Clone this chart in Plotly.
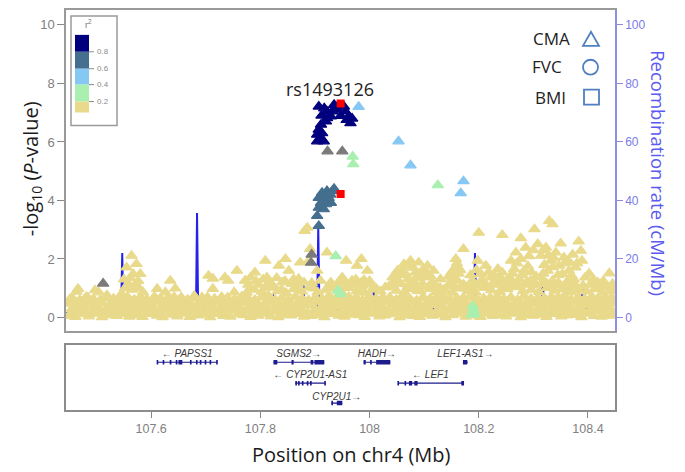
import plotly.graph_objects as go

# ---------------------------------------------------------------- data
# SNP association results (position in Mb, -log10 P), grouped by LD r^2 class
yellow_low = [
    (107.449, 0.06), (107.461, 0.02), (107.475, 0.11), (107.486, 0.04), (107.500, 0.13), (107.510, 0.01), (107.523, 0.08), (107.537, 0.05), (107.547, 0.12), (107.560, 0.03),
    (107.574, 0.09), (107.584, 0.02), (107.597, 0.12), (107.611, 0.06), (107.621, 0.01), (107.634, 0.10), (107.648, 0.04), (107.658, 0.13), (107.671, 0.02), (107.685, 0.07),
    (107.695, 0.10), (107.708, 0.01), (107.722, 0.12), (107.732, 0.05), (107.745, 0.03), (107.759, 0.11), (107.769, 0.08), (107.782, 0.02), (107.796, 0.06), (107.806, 0.13),
    (107.819, 0.04), (107.833, 0.01), (107.843, 0.09), (107.856, 0.07), (107.870, 0.12), (107.880, 0.03), (107.893, 0.05), (107.907, 0.09), (107.917, 0.01), (107.930, 0.12),
    (107.944, 0.06), (107.954, 0.03), (107.967, 0.10), (107.981, 0.08), (107.991, 0.02), (108.004, 0.13), (108.018, 0.04), (108.028, 0.07), (108.041, 0.11), (108.055, 0.01),
    (108.065, 0.09), (108.078, 0.05), (108.092, 0.02), (108.102, 0.12), (108.115, 0.06), (108.129, 0.10), (108.139, 0.01), (108.152, 0.08), (108.166, 0.13), (108.176, 0.03),
    (108.189, 0.07), (108.203, 0.02), (108.213, 0.11), (108.226, 0.05), (108.240, 0.09), (108.250, 0.04), (108.263, 0.13), (108.277, 0.01), (108.287, 0.08), (108.300, 0.06),
    (108.314, 0.10), (108.324, 0.02), (108.337, 0.12), (108.351, 0.04), (108.361, 0.07), (108.374, 0.09), (108.388, 0.01), (108.398, 0.13), (108.411, 0.05), (108.425, 0.03),
    (108.435, 0.08), (108.446, 0.06),
]
yellow_low2 = [
    (107.455, 0.19), (107.468, 0.23), (107.480, 0.17), (107.492, 0.21), (107.505, 0.18), (107.517, 0.24), (107.529, 0.16), (107.542, 0.22), (107.554, 0.19), (107.566, 0.17),
    (107.579, 0.23), (107.591, 0.18), (107.603, 0.21), (107.616, 0.16), (107.628, 0.24), (107.640, 0.19), (107.653, 0.22), (107.665, 0.17), (107.677, 0.20), (107.690, 0.23),
    (107.702, 0.18), (107.714, 0.16), (107.727, 0.22), (107.739, 0.19), (107.751, 0.24), (107.764, 0.17), (107.776, 0.21), (107.788, 0.18), (107.801, 0.23), (107.813, 0.16),
    (107.825, 0.20), (107.838, 0.22), (107.850, 0.17), (107.862, 0.24), (107.875, 0.19), (107.887, 0.16), (107.899, 0.21), (107.912, 0.23), (107.924, 0.18), (107.936, 0.20),
    (107.949, 0.17), (107.961, 0.22), (107.973, 0.19), (107.986, 0.24), (107.998, 0.16), (108.010, 0.21), (108.023, 0.18), (108.035, 0.23), (108.047, 0.17), (108.060, 0.20),
    (108.072, 0.22), (108.084, 0.16), (108.097, 0.24), (108.109, 0.19), (108.121, 0.17), (108.134, 0.21), (108.146, 0.23), (108.158, 0.18), (108.171, 0.20), (108.183, 0.16),
    (108.195, 0.22), (108.208, 0.19), (108.220, 0.24), (108.232, 0.17), (108.245, 0.21), (108.257, 0.18), (108.269, 0.23), (108.282, 0.16), (108.294, 0.20), (108.306, 0.22),
    (108.319, 0.17), (108.331, 0.24), (108.343, 0.19), (108.356, 0.21), (108.368, 0.16), (108.380, 0.23), (108.393, 0.18), (108.405, 0.20), (108.417, 0.22), (108.430, 0.17),
    (108.442, 0.21),
]
yellow_mid = [
    (107.455, 0.30), (107.468, 0.38), (107.480, 0.27), (107.493, 0.41), (107.505, 0.33), (107.517, 0.25), (107.530, 0.39), (107.542, 0.31), (107.554, 0.36), (107.567, 0.28),
    (107.579, 0.42), (107.591, 0.30), (107.604, 0.35), (107.616, 0.26), (107.628, 0.40), (107.641, 0.32), (107.653, 0.28), (107.665, 0.37), (107.678, 0.34), (107.690, 0.25),
    (107.702, 0.39), (107.715, 0.30), (107.727, 0.36), (107.739, 0.27), (107.752, 0.41), (107.764, 0.33), (107.776, 0.29), (107.789, 0.38), (107.801, 0.31), (107.813, 0.26),
    (107.826, 0.40), (107.838, 0.34), (107.850, 0.28), (107.863, 0.37), (107.875, 0.30), (107.887, 0.42), (107.900, 0.27), (107.912, 0.35), (107.924, 0.32), (107.937, 0.39),
    (107.949, 0.25), (107.961, 0.36), (107.974, 0.31), (107.986, 0.41), (107.998, 0.28), (108.011, 0.34), (108.023, 0.38), (108.035, 0.26), (108.048, 0.33), (108.060, 0.40),
    (108.072, 0.29), (108.085, 0.37), (108.097, 0.31), (108.109, 0.27), (108.122, 0.42), (108.134, 0.35), (108.146, 0.30), (108.159, 0.38), (108.171, 0.26), (108.183, 0.33),
    (108.196, 0.40), (108.208, 0.29), (108.220, 0.36), (108.233, 0.32), (108.245, 0.41), (108.257, 0.27), (108.270, 0.34), (108.282, 0.39), (108.294, 0.30), (108.307, 0.25),
    (108.319, 0.37), (108.331, 0.33), (108.344, 0.40), (108.356, 0.28), (108.368, 0.35), (108.381, 0.31), (108.393, 0.42), (108.405, 0.26), (108.418, 0.38), (108.430, 0.32),
    (108.442, 0.29),
]
yellow_mid2 = [
    (107.448, 0.47), (107.462, 0.50), (107.474, 0.45), (107.487, 0.52), (107.499, 0.46), (107.511, 0.49), (107.524, 0.44), (107.536, 0.51), (107.548, 0.47), (107.561, 0.45),
    (107.573, 0.50), (107.585, 0.48), (107.598, 0.44), (107.610, 0.52), (107.622, 0.46), (107.635, 0.49), (107.647, 0.45), (107.659, 0.51), (107.672, 0.47), (107.684, 0.44),
    (107.696, 0.50), (107.709, 0.46), (107.721, 0.52), (107.733, 0.45), (107.746, 0.48), (107.758, 0.44), (107.770, 0.51), (107.783, 0.47), (107.795, 0.49), (107.807, 0.45),
    (107.820, 0.52), (107.832, 0.46), (107.844, 0.48), (107.857, 0.44), (107.869, 0.50), (107.881, 0.47), (107.894, 0.45), (107.906, 0.52), (107.918, 0.46), (107.931, 0.49),
    (107.943, 0.44), (107.955, 0.51), (107.968, 0.47), (107.980, 0.45), (107.992, 0.50), (108.005, 0.48), (108.017, 0.44), (108.029, 0.52), (108.042, 0.46), (108.054, 0.49),
    (108.066, 0.45), (108.079, 0.51), (108.091, 0.47), (108.103, 0.44), (108.116, 0.50), (108.128, 0.46), (108.140, 0.52), (108.153, 0.45), (108.165, 0.48), (108.177, 0.44),
    (108.190, 0.51), (108.202, 0.47), (108.214, 0.49), (108.227, 0.45), (108.239, 0.52), (108.251, 0.46), (108.264, 0.48), (108.276, 0.44), (108.288, 0.50), (108.301, 0.47),
    (108.313, 0.45), (108.325, 0.52), (108.338, 0.46), (108.350, 0.49), (108.362, 0.44), (108.375, 0.51), (108.387, 0.47), (108.399, 0.45), (108.412, 0.50), (108.424, 0.48),
    (108.436, 0.44), (108.447, 0.49),
]
yellow_top = [
    (107.451, 0.62), (107.463, 0.88), (107.472, 0.55), (107.484, 0.68), (107.497, 0.93), (107.508, 0.58), (107.519, 0.75), (107.531, 0.64), (107.544, 0.52), (107.557, 0.70),
    (107.570, 0.60), (107.582, 0.66), (107.594, 0.55), (107.606, 0.71), (107.618, 0.59), (107.631, 0.67), (107.643, 0.52), (107.655, 0.69), (107.667, 0.61), (107.679, 0.74),
    (107.692, 0.57), (107.704, 0.65), (107.716, 0.53), (107.729, 0.70), (107.741, 0.62), (107.753, 0.56), (107.766, 0.72), (107.778, 0.64), (107.790, 0.58), (107.803, 0.69),
    (107.815, 0.75), (107.827, 0.61), (107.840, 0.66), (107.852, 0.54), (107.864, 0.71), (107.877, 0.63), (107.889, 0.57), (107.901, 0.68), (107.914, 0.60), (107.926, 0.74),
    (107.938, 0.55), (107.950, 0.66), (107.963, 0.62), (107.975, 0.70), (107.987, 0.58), (108.000, 0.73), (108.012, 0.64), (108.024, 0.56), (108.037, 0.69), (108.049, 0.61),
    (108.061, 0.75), (108.074, 0.63), (108.086, 0.57), (108.098, 0.70), (108.111, 0.65), (108.123, 0.59), (108.135, 0.72), (108.148, 0.62), (108.160, 0.55), (108.172, 0.68),
    (108.185, 0.74), (108.197, 0.60), (108.209, 0.66), (108.222, 0.57), (108.234, 0.71), (108.246, 0.64), (108.259, 0.69), (108.271, 0.58), (108.283, 0.73), (108.296, 0.62),
    (108.308, 0.67), (108.320, 0.56), (108.333, 0.70), (108.345, 0.63), (108.357, 0.75), (108.370, 0.59), (108.382, 0.68), (108.394, 0.61), (108.407, 0.72), (108.419, 0.57),
    (108.431, 0.66), (108.444, 0.63),
]
yellow_top2 = [
    (107.456, 0.66), (107.469, 0.60), (107.481, 0.70), (107.494, 0.63), (107.506, 0.58), (107.518, 0.67), (107.531, 0.61), (107.543, 0.69), (107.555, 0.64), (107.568, 0.59),
    (107.580, 0.68), (107.592, 0.62), (107.605, 0.57), (107.617, 0.66), (107.629, 0.60), (107.642, 0.70), (107.654, 0.63), (107.666, 0.58), (107.679, 0.67), (107.691, 0.61),
    (107.703, 0.69), (107.716, 0.64), (107.728, 0.59), (107.740, 0.68), (107.753, 0.62), (107.765, 0.57), (107.777, 0.66), (107.790, 0.60), (107.802, 0.70), (107.814, 0.63),
    (107.827, 0.58), (107.839, 0.67), (107.851, 0.61), (107.864, 0.69), (107.876, 0.64), (107.888, 0.59), (107.901, 0.68), (107.913, 0.62), (107.925, 0.57), (107.938, 0.66),
    (107.950, 0.60), (107.962, 0.70), (107.975, 0.63), (107.987, 0.58), (107.999, 0.67), (108.012, 0.61), (108.024, 0.69), (108.036, 0.64), (108.049, 0.59), (108.061, 0.68),
    (108.073, 0.62), (108.086, 0.57), (108.098, 0.66), (108.110, 0.60), (108.123, 0.70), (108.135, 0.63), (108.147, 0.58), (108.160, 0.67), (108.172, 0.61), (108.184, 0.69),
    (108.197, 0.64), (108.209, 0.59), (108.221, 0.68), (108.234, 0.62), (108.246, 0.57), (108.258, 0.66), (108.271, 0.60), (108.283, 0.70), (108.295, 0.63), (108.308, 0.58),
    (108.320, 0.67), (108.332, 0.61), (108.345, 0.69), (108.357, 0.64), (108.369, 0.59), (108.382, 0.68), (108.394, 0.62), (108.406, 0.57), (108.419, 0.66), (108.431, 0.60),
    (108.443, 0.70),
]
yellow_upper = [
    (107.775, 0.85), (107.789, 0.95), (107.803, 0.88), (107.818, 1.02), (107.832, 0.90), (107.847, 0.84), (107.861, 0.97), (107.876, 0.89), (107.890, 1.04), (107.905, 0.86),
    (107.919, 0.93), (107.934, 0.99), (107.948, 0.87), (107.962, 1.01), (107.977, 0.91), (107.991, 0.85), (108.006, 0.96), (108.020, 0.89), (108.035, 1.05), (108.049, 0.92),
    (108.064, 0.86), (108.078, 0.98), (108.093, 0.90), (108.107, 1.03), (108.122, 0.87), (108.136, 0.94), (108.151, 0.85), (108.165, 0.99), (108.180, 0.91), (108.194, 0.86),
    (108.209, 1.02), (108.223, 0.93), (108.238, 0.88), (108.252, 0.97), (108.267, 1.04), (108.281, 0.90), (108.296, 0.95), (108.310, 0.87), (108.325, 1.01), (108.339, 0.92),
    (108.354, 0.98), (108.368, 0.86), (108.383, 0.94), (108.397, 0.89), (108.412, 0.97), (108.426, 0.85), (108.441, 0.91),
    (107.782, 0.98), (107.810, 1.05), (107.839, 0.96), (107.868, 1.02), (107.897, 0.99), (107.926, 1.08), (107.955, 1.00), (107.970, 1.12), (107.984, 1.04), (108.013, 0.97),
    (108.042, 1.10), (108.057, 1.15), (108.071, 1.08), (108.086, 1.12), (108.100, 1.06), (108.114, 1.10), (108.129, 1.02), (108.143, 1.08), (108.158, 1.00), (108.172, 1.13),
    (108.187, 1.05), (108.201, 1.10), (108.216, 1.03), (108.230, 1.12), (108.245, 1.07), (108.259, 1.18), (108.274, 1.10), (108.288, 1.20), (108.303, 1.14), (108.317, 1.22),
    (108.332, 1.12), (108.346, 1.19), (108.361, 1.08), (108.375, 1.15), (108.390, 1.06), (108.404, 1.12), (108.419, 1.02), (108.433, 1.08), (108.447, 1.00),
]
yellow_scatter = [
    (107.564, 2.11), (107.573, 1.83), (107.555, 1.71), (107.567, 1.49), (107.580, 1.49), (107.558, 1.15), (107.573, 1.09), (107.585, 0.86), (107.546, 0.81),
    (107.550, 1.30), (107.562, 1.35), (107.576, 1.25), (107.552, 1.00), (107.565, 0.95), (107.578, 1.00),
    (107.611, 0.98), (107.635, 1.26), (107.644, 0.99), (107.626, 0.86), (107.466, 0.98), (107.519, 0.75), (107.504, 0.86),
    (107.705, 1.43), (107.713, 1.33), (107.735, 1.37), (107.741, 1.26), (107.757, 1.60), (107.772, 1.26), (107.752, 0.86), (107.713, 0.98), (107.693, 0.69),
    (107.809, 1.94), (107.846, 2.00), (107.834, 1.77), (107.852, 1.60), (107.790, 1.54), (107.873, 1.88), (107.782, 1.37), (107.812, 1.37), (107.861, 1.31),
    (107.773, 1.26), (107.840, 1.20), (107.891, 2.34), (107.889, 1.94), (107.904, 1.60), (107.922, 2.22), (107.910, 1.26), (107.929, 1.20), (107.957, 1.94),
    (107.985, 2.00), (107.977, 1.77), (107.996, 1.60), (107.950, 1.37), (107.968, 1.26), (107.957, 1.03), (107.999, 1.15), (107.886, 3.07), (107.881, 2.96),
    (107.797, 1.12), (107.823, 1.08), (107.868, 1.13), (107.894, 1.18), (107.940, 1.12), (107.985, 1.20),
    (107.778, 1.12), (107.792, 1.25), (107.805, 1.30), (107.818, 1.20), (107.830, 1.35), (107.845, 1.25), (107.858, 1.15), (107.870, 1.32), (107.880, 1.20),
    (107.955, 1.22), (107.965, 1.15), (107.975, 1.30), (107.990, 1.28), (108.000, 1.25), (107.945, 1.25),
    (108.075, 1.94), (108.063, 1.82), (108.090, 1.88), (108.051, 1.60), (108.106, 1.77), (108.042, 1.37), (108.066, 1.49), (108.084, 1.54), (108.102, 1.37),
    (108.117, 1.60), (108.054, 1.20), (108.078, 1.20), (108.097, 1.15), (108.115, 1.20), (108.029, 1.03), (108.070, 1.05), (108.088, 0.92), (108.112, 0.98),
    (108.008, 1.03), (107.987, 1.09),
    (108.045, 1.25), (108.058, 1.45), (108.070, 1.30), (108.080, 1.70), (108.092, 1.45), (108.104, 1.55), (108.112, 1.40), (108.060, 1.62), (108.072, 1.75),
    (108.098, 1.65), (108.085, 1.35), (108.048, 1.48),
    (108.329, 3.30), (108.335, 3.19), (108.302, 3.02), (108.200, 2.90), (108.243, 2.82), (108.277, 2.71), (108.172, 2.34), (108.350, 2.53), (108.383, 2.60),
    (108.387, 2.28), (108.158, 2.00), (108.158, 1.71), (108.439, 1.51), (108.418, 1.09),
    (108.268, 2.22), (108.286, 2.39), (108.308, 2.51), (108.323, 2.39), (108.341, 2.22), (108.356, 2.05), (108.259, 1.94), (108.277, 2.00), (108.314, 2.11),
    (108.332, 1.94), (108.347, 1.77), (108.265, 1.66), (108.283, 1.60), (108.326, 1.60), (108.353, 1.49), (108.256, 1.37), (108.274, 1.31), (108.295, 1.26),
    (108.314, 1.37), (108.335, 1.26), (108.363, 1.26), (108.262, 1.15), (108.285, 1.12), (108.305, 1.10), (108.325, 1.15), (108.345, 1.10), (108.360, 1.12),
    (108.262, 1.50), (108.270, 1.85), (108.280, 1.45), (108.290, 1.75), (108.292, 2.10), (108.300, 2.30), (108.318, 2.30), (108.328, 2.12), (108.338, 2.02),
    (108.345, 1.45), (108.357, 1.85), (108.365, 1.60), (108.320, 1.80), (108.335, 1.72), (108.305, 1.40), (108.318, 1.50), (108.296, 1.55), (108.366, 1.90),
    (108.372, 2.15), (108.380, 1.85), (108.374, 1.30), (108.402, 1.50), (108.410, 1.30), (108.428, 1.25),
    (108.198, 1.94), (108.213, 1.77), (108.235, 1.66), (108.243, 1.54), (108.204, 1.49), (108.222, 1.37), (108.188, 1.26), (108.209, 1.15), (108.237, 1.20),
    (108.252, 1.03), (108.179, 1.03), (108.161, 1.26), (108.149, 1.15), (108.130, 1.31), (108.121, 1.09), (108.139, 0.92),
    (108.185, 1.45), (108.196, 1.62), (108.206, 1.30), (108.218, 1.55), (108.228, 1.45), (108.240, 1.35), (108.250, 1.25), (108.192, 1.12), (108.226, 1.18),
    (108.145, 1.40), (108.163, 1.50), (108.152, 1.35), (108.160, 1.85), (108.166, 1.62), (108.150, 1.55),
    (108.377, 1.71), (108.389, 1.94), (108.370, 1.43), (108.395, 1.37), (108.418, 1.20), (108.436, 1.03), (108.391, 1.09), (108.369, 1.03), (108.445, 1.15),
]
palegreen_pts = [(107.969, 5.50), (107.970, 5.24), (108.125, 4.52), (107.938, 2.10), (107.947, 0.80), (107.942, 0.92),
                 (108.187, 0.10), (108.190, 0.25), (108.192, 0.12), (108.189, 0.38)]
lightblue_pts = [(107.980, 7.20), (108.053, 6.02), (108.075, 5.20), (108.172, 4.66), (108.167, 4.25)]
grey_pts = [(107.923, 5.68), (107.950, 5.68), (107.512, 1.16), (107.893, 1.87), (107.894, 2.15)]
steel_pts = [(107.913, 4.26), (107.922, 4.32), (107.932, 4.32), (107.907, 4.09), (107.916, 4.09), (107.925, 4.09),
             (107.911, 3.92), (107.920, 3.87), (107.929, 3.92), (107.907, 3.75), (107.916, 3.70), (107.904, 3.47),
             (107.907, 3.13), (107.935, 4.40), (107.928, 4.20)]
navy_pts = [(107.907, 7.21), (107.922, 7.04), (107.935, 7.27), (107.941, 7.10), (107.953, 7.21), (107.956, 7.04),
            (107.962, 6.87), (107.965, 6.64), (107.947, 6.89), (107.929, 6.87), (107.920, 6.70), (107.911, 6.59),
            (107.907, 6.42), (107.913, 6.30), (107.911, 6.13), (107.904, 6.02), (107.916, 6.02), (107.904, 6.25),
            (107.932, 7.04), (107.922, 6.81), (107.938, 7.20), (107.958, 6.75), (107.968, 6.80), (107.912, 6.90),
            (107.917, 7.15)]
index_pts = [(107.947, 7.31), (107.947, 4.22)]
index_snp = "rs1493126"

# recombination rate (cM/Mb)
recomb_pos = [107.444, 107.470, 107.500, 107.530, 107.545, 107.547, 107.549, 107.580, 107.620, 107.660,
              107.682, 107.684, 107.686, 107.720, 107.760, 107.790, 107.824, 107.833, 107.878, 107.879,
              107.881, 107.904, 107.906, 107.908, 107.950, 108.006, 108.008, 108.010, 108.060, 108.120,
              108.191, 108.193, 108.195, 108.260, 108.315, 108.317, 108.320, 108.331, 108.332, 108.334,
              108.380, 108.392, 108.393, 108.395, 108.450]
recomb_rate = [1.5, 2.0, 1.0, 2.5, 3.0, 22.0, 2.5, 1.5, 2.0, 1.0,
               2.0, 35.7, 3.0, 1.5, 2.0, 3.0, 7.5, 5.0, 3.0, 11.0,
               4.0, 3.0, 31.0, 5.0, 2.0, 3.0, 11.0, 4.0, 2.0, 3.0,
               4.0, 22.0, 5.0, 2.0, 2.0, 14.0, 2.0, 1.0, 5.0, 0.5,
               2.0, 10.0, 11.5, 3.0, 2.0]

# genes
gene_names = ["PAPSS1", "SGMS2", "CYP2U1-AS1", "CYP2U1", "HADH", "LEF1-AS1", "LEF1"]
gene_start = [107.611, 107.824, 107.864, 107.930, 107.989, 108.171, 108.052]
gene_end = [107.721, 107.917, 107.919, 107.950, 108.038, 108.180, 108.171]
gene_strand = ["-", "+", "-", "+", "+", "+", "-"]
gene_row = [1, 1, 2, 3, 1, 1, 2]
gene_exons = [
    [(107.610, 107.613), (107.621, 107.624), (107.634, 107.637), (107.645, 107.648), (107.650, 107.657), (107.671, 107.674),
     (107.682, 107.685), (107.689, 107.692), (107.698, 107.701), (107.707, 107.710), (107.719, 107.722)],
    [(107.824, 107.831), (107.857, 107.861), (107.892, 107.897), (107.899, 107.917)],
    [(107.864, 107.867), (107.869, 107.872), (107.876, 107.879), (107.885, 107.888), (107.891, 107.894), (107.917, 107.920)],
    [(107.930, 107.933), (107.940, 107.950)],
    [(107.989, 107.993), (108.001, 108.004), (108.012, 108.038)],
    [(108.171, 108.179)],
    [(108.051, 108.054), (108.064, 108.067), (108.072, 108.078), (108.082, 108.088), (108.168, 108.173)],
]

x_ticks = [107.6, 107.8, 108.0, 108.2, 108.4]
x_ticktext = ["107.6", "107.8", "108", "108.2", "108.4"]
p_ticks = [0, 2, 4, 6, 8, 10]
r_ticks = [0, 20, 40, 60, 80, 100]
ld_breaks = ["0.8", "0.6", "0.4", "0.2"]
ld_colors = ["#00007f", "#446f8e", "#86c8f4", "#a9efb0", "#e9da8b"]
traits = ["CMA", "FVC", "BMI"]

# ---------------------------------------------------------------- layout helpers
W, H = 685, 472
ML, MR, MT, MB = 66, 70, 8, 62
PW, PH = W - ML - MR, H - MT - MB


def fx(xp):
    return (xp - ML) / PW


def fy(yp):
    return (H - MB - yp) / PH


X_RANGE = [107.444, 108.4495]
P_RANGE = [-0.476, 10.51]
R_RANGE = [-4.76, 105.1]
ROW_LINE_Y = {1: 17, 2: 38, 3: 58}
ROW_LABEL_Y = {1: 9, 2: 30, 3: 52}
GENE_COLOR = "#1c1c8c"

fig = go.Figure()

# recombination line (under points)
fig.add_trace(go.Scatter(x=recomb_pos, y=recomb_rate, mode="lines",
                         line=dict(color="rgb(35,35,235)", width=2),
                         xaxis="x2", yaxis="y", hoverinfo="skip"))


def add_pts(pts, color, symbol="triangle-up", size=10, outline=1.2):
    xs, ys = zip(*pts)
    fig.add_trace(go.Scatter(x=list(xs), y=list(ys), mode="markers",
                             marker=dict(symbol=symbol, size=size, color=color,
                                         line=dict(width=outline, color=color)),
                             xaxis="x2", yaxis="y2"))


add_pts(yellow_low + yellow_low2 + yellow_mid + yellow_mid2 + yellow_top + yellow_top2
        + yellow_upper + yellow_scatter, ld_colors[4])
add_pts(palegreen_pts, ld_colors[3])
add_pts(lightblue_pts, ld_colors[2])
add_pts(grey_pts, "#7a7a7a")
add_pts(steel_pts, ld_colors[1])
add_pts(navy_pts, ld_colors[0])
add_pts(index_pts, "#ff0000", symbol="square", size=8, outline=0)

# genes
line_x, line_y, ex_x, ex_y, lab_x, lab_y, lab_t = [], [], [], [], [], [], []
for name, s, e, strand, row, exons in zip(gene_names, gene_start, gene_end, gene_strand, gene_row, gene_exons):
    line_x += [s, e, None]
    line_y += [ROW_LINE_Y[row]] * 2 + [None]
    for a, b in exons:
        ex_x += [a, b, None]
        ex_y += [ROW_LINE_Y[row]] * 2 + [None]
    lab_x.append((s + e) / 2)
    lab_y.append(ROW_LABEL_Y[row])
    lab_t.append("<i>" + ("\u2190 " + name if strand == "-" else name + "\u2192") + "</i>")

fig.add_trace(go.Scatter(x=line_x, y=line_y, mode="lines", line=dict(color=GENE_COLOR, width=1.2),
                         xaxis="x", yaxis="y3"))
fig.add_trace(go.Scatter(x=ex_x, y=ex_y, mode="lines", line=dict(color=GENE_COLOR, width=4.5),
                         xaxis="x", yaxis="y3"))
fig.add_trace(go.Scatter(x=lab_x, y=lab_y, mode="text", text=lab_t,
                         textfont=dict(family="Liberation Sans", size=10, color="#3a3a3a"),
                         xaxis="x", yaxis="y3"))

main_dom = [fy(331), fy(MT)]
gene_dom = [fy(410), fy(345)]

fig.update_layout(
    width=W, height=H, margin=dict(l=ML, r=MR, t=MT, b=MB),
    paper_bgcolor="white", plot_bgcolor="white", showlegend=False,
    font=dict(family="Liberation Sans", color="#333"),
    xaxis=dict(domain=[0, 1], anchor="y3", range=X_RANGE, tickvals=x_ticks, ticktext=x_ticktext,
               ticks="outside", ticklen=6, tickcolor="#888", tickwidth=1,
               tickfont=dict(family="Liberation Sans", size=12.5, color="#808080"),
               showline=True, mirror=True, linecolor="#8c8c8c", linewidth=1.5,
               showgrid=False, zeroline=False),
    xaxis2=dict(domain=[0, 1], anchor="y", range=X_RANGE, matches="x", showticklabels=False, ticks="",
                showline=True, mirror=True, linecolor="#9a9a9a", linewidth=1.5,
                showgrid=False, zeroline=False),
    yaxis=dict(domain=main_dom, anchor="x2", side="right", range=R_RANGE, tickvals=r_ticks,
               ticks="outside", ticklen=6, tickcolor="#8a8ae6",
               tickfont=dict(family="Liberation Sans", size=12, color="#7b7be6"),
               showline=True, linecolor="#8f8fe0", linewidth=1.5, showgrid=False, zeroline=False),
    yaxis2=dict(overlaying="y", anchor="x2", side="left", range=P_RANGE, tickvals=p_ticks,
                ticks="outside", ticklen=7, tickcolor="#888",
                tickfont=dict(family="Liberation Sans", size=13, color="#808080"),
                showline=True, linecolor="#9a9a9a", linewidth=1.5, showgrid=False, zeroline=False),
    yaxis3=dict(domain=gene_dom, anchor="x", range=[65, 0], showticklabels=False, ticks="",
                showline=True, mirror=True, linecolor="#8c8c8c", linewidth=1.5,
                showgrid=False, zeroline=False),
)

ann = []
ann.append(dict(text="Position on chr4 (Mb)", x=fx(351), y=fy(455), xref="paper", yref="paper",
                showarrow=False, xanchor="center", yanchor="middle",
                font=dict(family="Open Sans", size=20, color="#1a1a1a")))
ann.append(dict(text="-log<sub>10</sub> (<i>P</i>-value)", x=fx(31), y=fy(168), xref="paper", yref="paper",
                showarrow=False, textangle=-90, xanchor="center", yanchor="middle",
                font=dict(family="Open Sans", size=20, color="#1a1a1a")))
ann.append(dict(text="Recombination rate (cM/Mb)", x=fx(659), y=fy(172), xref="paper", yref="paper",
                showarrow=False, textangle=90, xanchor="center", yanchor="middle",
                font=dict(family="Open Sans", size=18.5, color="#5a5af0")))
ann.append(dict(text=index_snp, x=index_pts[0][0], y=index_pts[0][1], xref="x2", yref="y2",
                showarrow=False, xanchor="center", yanchor="middle", xshift=-11, yshift=15,
                font=dict(family="Open Sans", size=18, color="#222")))
for t, (cx, cy) in zip(traits, [(551, 37), (547, 65), (550, 96)]):
    ann.append(dict(text=t, x=fx(cx), y=fy(cy), xref="paper", yref="paper", showarrow=False,
                    xanchor="center", yanchor="middle", font=dict(family="Open Sans", size=17, color="#222")))
ann.append(dict(text="r<sup>2</sup>", x=fx(88), y=fy(22), xref="paper", yref="paper", showarrow=False,
                xanchor="center", yanchor="middle", font=dict(size=9, color="#777")))
for lbl, yy in zip(ld_breaks, [50, 67, 83, 100]):
    ann.append(dict(text=lbl, x=fx(95), y=fy(yy), xref="paper", yref="paper", showarrow=False,
                    xanchor="left", yanchor="middle", font=dict(size=8, color="#8a8a8a")))

shapes = []
shapes.append(dict(type="rect", xref="paper", yref="paper", x0=fx(71), x1=fx(117), y0=fy(124), y1=fy(14),
                   line=dict(color="#9a9a9a", width=1.5), fillcolor="white", layer="above"))
bounds = [33, 50, 67, 83, 100, 111]
for i, c in enumerate(ld_colors):
    shapes.append(dict(type="rect", xref="paper", yref="paper", x0=fx(75), x1=fx(89),
                       y0=fy(bounds[i + 1]), y1=fy(bounds[i]), line=dict(width=0), fillcolor=c, layer="above"))
for yy in [50, 67, 83, 100]:
    shapes.append(dict(type="line", xref="paper", yref="paper", x0=fx(89), x1=fx(94), y0=fy(yy), y1=fy(yy),
                       line=dict(color="#8a8a8a", width=1), layer="above"))
SYM = "#4f7fbf"
shapes.append(dict(type="path", xref="paper", yref="paper",
                   path=f"M {fx(583)},{fy(44)} L {fx(599)},{fy(44)} L {fx(591)},{fy(30)} Z",
                   line=dict(color=SYM, width=1.8), layer="above"))
shapes.append(dict(type="circle", xref="paper", yref="paper", x0=fx(583), x1=fx(598), y0=fy(73), y1=fy(58),
                   line=dict(color=SYM, width=1.8), layer="above"))
shapes.append(dict(type="rect", xref="paper", yref="paper", x0=fx(584), x1=fx(599), y0=fy(103), y1=fy(88),
                   line=dict(color=SYM, width=1.8), layer="above"))

fig.update_layout(annotations=ann, shapes=shapes)
fig.write_html("out.html")
